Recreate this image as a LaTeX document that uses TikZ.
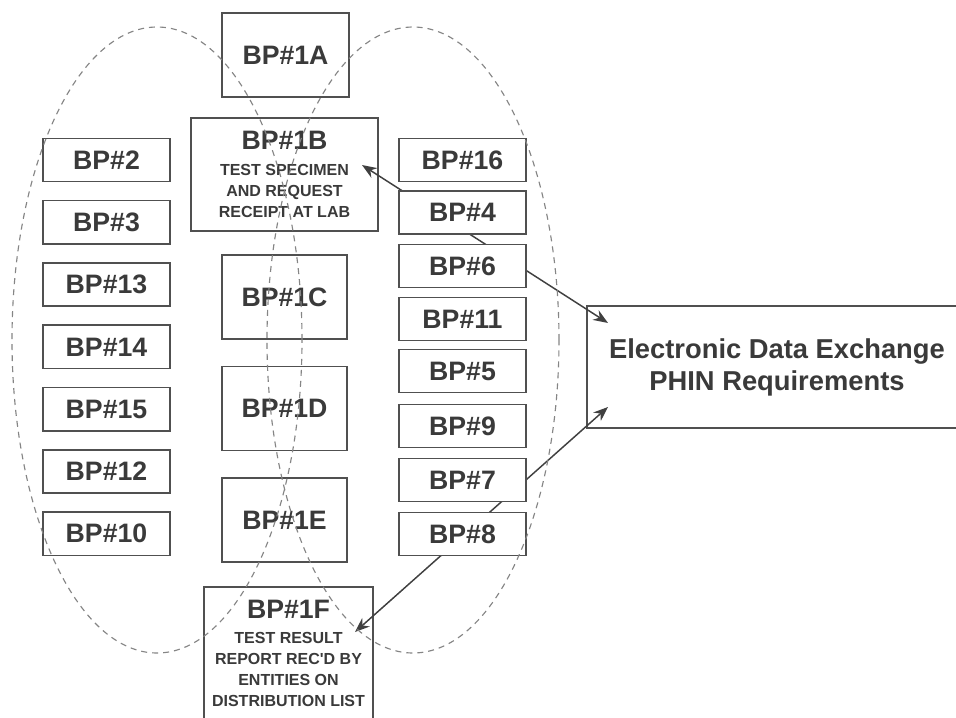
\documentclass[tikz,border=0pt]{standalone}
\usepackage{fontspec}
\setmainfont{Liberation Sans}
\usetikzlibrary{arrows.meta}
\definecolor{boxline}{HTML}{505050}
\definecolor{boxtext}{HTML}{3A3A3A}
\definecolor{dashgray}{HTML}{858585}
\definecolor{linkgray}{HTML}{404040}
\begin{document}
\begin{tikzpicture}[x=0.75pt,y=-0.75pt,
  bpbox/.style={draw=boxline, line width=1.2pt, fill=white, text=boxtext,
    font=\bfseries\fontsize{20}{24}\selectfont, inner sep=0pt, align=center},
  sidebox/.style={bpbox, minimum width=95.25pt, minimum height=32.5pt},
  midbox/.style={bpbox, minimum width=93.75pt, minimum height=63pt},
  notebox/.style={bpbox, font=\bfseries\fontsize{12}{15.75}\selectfont},
  linkline/.style={draw=linkgray, line width=1.1pt,
    {Stealth[length=11pt,width=8.5pt]}-{Stealth[length=11pt,width=8.5pt]}},
  bubble/.style={draw=dashgray, line width=0.85pt, dash pattern=on 4.5pt off 3.75pt}
]
\fill[white] (0,0) rectangle (956,717);
\useasboundingbox (0,0) rectangle (956,717);

% central chain of business processes and the exchange box
\node[midbox, minimum width=95.25pt] (p1a) at (285.5,55) {BP\#1A};
\node[notebox, minimum width=140.25pt, minimum height=84.75pt] (p1b) at (284.5,174.5)
  {{\fontsize{20}{24}\selectfont BP\#1B}\\[4pt]TEST SPECIMEN\\AND REQUEST\\RECEIPT AT LAB};
\node[midbox] (p1c) at (284.5,297) {BP\#1C};
\node[midbox] (p1d) at (284.5,408.5) {BP\#1D};
\node[midbox] (p1e) at (284.5,520) {BP\#1E};
\node[notebox, minimum width=126.75pt, minimum height=99pt] (p1f) at (288.5,653)
  {{\fontsize{20}{24}\selectfont BP\#1F}\\[3pt]TEST RESULT\\REPORT REC\textquotesingle D BY\\ENTITIES ON\\DISTRIBUTION LIST};
\node[bpbox, minimum width=285pt, minimum height=91.5pt,
  font=\bfseries\fontsize{20.5}{24}\selectfont] (edx) at (777,367)
  {Electronic Data Exchange\\PHIN Requirements};

% links to the exchange requirements
\coordinate (tipb) at (362,165);
\coordinate (tipf) at (355,632);
\coordinate (edxup) at (608,323);
\coordinate (edxdown) at (608,407);
\draw[linkline] (tipb) -- (edxup);
\draw[linkline] (tipf) -- (edxdown);

% left column
\node[sidebox] (p2)  at (106.5,160)   {BP\#2};
\node[sidebox] (p3)  at (106.5,222.3) {BP\#3};
\node[sidebox] (p13) at (106.5,284.6) {BP\#13};
\node[sidebox] (p14) at (106.5,346.9) {BP\#14};
\node[sidebox] (p15) at (106.5,409.2) {BP\#15};
\node[sidebox] (p12) at (106.5,471.5) {BP\#12};
\node[sidebox] (p10) at (106.5,533.8) {BP\#10};

% right column
\node[sidebox] (p16) at (462.5,160)   {BP\#16};
\node[sidebox] (p4)  at (462.5,212.5) {BP\#4};
\node[sidebox] (p6)  at (462.5,266)   {BP\#6};
\node[sidebox] (p11) at (462.5,319)   {BP\#11};
\node[sidebox] (p5)  at (462.5,371)   {BP\#5};
\node[sidebox] (p9)  at (462.5,426)   {BP\#9};
\node[sidebox] (p7)  at (462.5,480)   {BP\#7};
\node[sidebox] (p8)  at (462.5,534)   {BP\#8};

% overlapping groupings
\draw[bubble] (157,340) ellipse [x radius=108.75pt, y radius=234.75pt];
\draw[bubble] (413,340) ellipse [x radius=109.5pt, y radius=234.75pt];
\end{tikzpicture}
\end{document}
